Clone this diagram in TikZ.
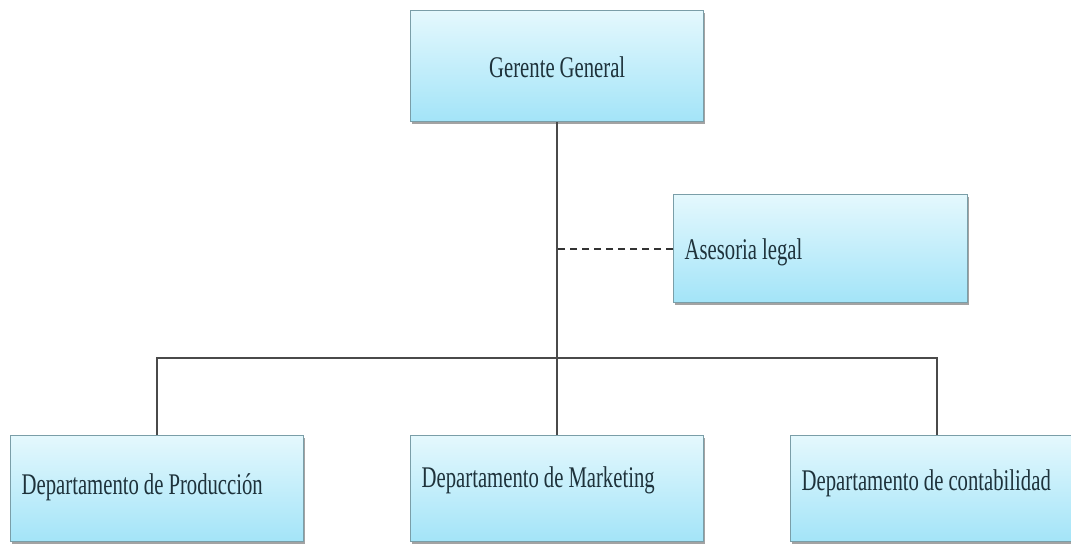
\documentclass[tikz,border=0pt]{standalone}
\usepackage{fontspec}
\setmainfont[FakeStretch=0.69]{Liberation Serif}
\usetikzlibrary{shadows}
\definecolor{boxline}{HTML}{7A9EA8}
\definecolor{boxtop}{HTML}{E4F8FD}
\definecolor{boxbottom}{HTML}{A3E4F8}
\definecolor{ink}{HTML}{1E323B}
\definecolor{wire}{HTML}{4A4A4A}
% label text, shifted vertically by #1, with tighter word spacing
\newcommand\unitlabel[2]{\raisebox{#1}{\spaceskip=5pt\relax #2}}
\tikzset{
  unit/.style={draw=boxline, line width=1.4pt, rectangle, anchor=north west,
    top color=boxtop, bottom color=boxbottom, text=ink,
    font=\fontsize{30}{32}\selectfont,
    text height=20pt, text depth=6pt, inner xsep=0pt, inner ysep=0pt,
    drop shadow={shadow xshift=1pt, shadow yshift=-2.5pt, fill=black!60, opacity=0.6}},
  unitleft/.style={unit, align=left, inner xsep=11pt},
  wireline/.style={draw=wire, line width=1.8pt},
  dashline/.style={draw=black!80, line width=1.8pt, dash pattern=on 7pt off 5pt}
}
\begin{document}
\begin{tikzpicture}[x=1pt, y=-1pt]
  \useasboundingbox (0,0) rectangle (1071,544);
  % top level
  \node[unit, minimum width=293pt, minimum height=111pt, text width=293pt, align=center] (gg) at (410,10) {\unitlabel{-4pt}{Gerente General}};
  % staff adviser
  \node[unitleft, minimum width=294pt, minimum height=108pt, text width=272pt] (ase) at (673,194) {\unitlabel{-4pt}{Asesoria legal}};
  % departments
  \node[unitleft, minimum width=293pt, minimum height=106pt, text width=271pt] (prod) at (10,435) {\unitlabel{1pt}{Departamento de Producción}};
  \node[unitleft, minimum width=293pt, minimum height=106pt, text width=271pt] (mkt) at (410,435) {\unitlabel{8pt}{Departamento de Marketing}};
  \node[unitleft, minimum width=293pt, minimum height=106pt, text width=271pt] (cont) at (790,435) {\unitlabel{5pt}{Departamento de contabilidad}};
  % connectors
  \coordinate (bus) at (555,358);
  \draw[wireline] (gg.south) -- (mkt.north);
  \draw[wireline] (prod.north) |- (bus) -| (cont.north);
  \draw[dashline] (ase.west) -- (ase.west -| gg.south);
\end{tikzpicture}
\end{document}
